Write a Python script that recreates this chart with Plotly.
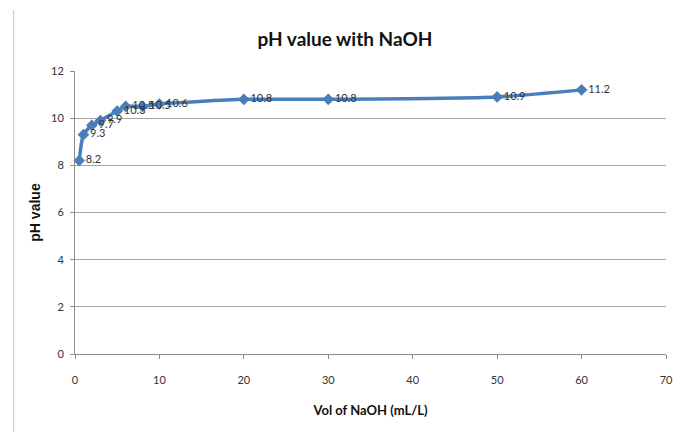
import plotly.graph_objects as go

vol_naoh = [0.5, 1, 2, 3, 5, 6, 8, 10, 20, 30, 50, 60]
ph_values = [8.2, 9.3, 9.7, 9.9, 10.3, 10.5, 10.5, 10.6, 10.8, 10.8, 10.9, 11.2]
x_ticks = [0, 10, 20, 30, 40, 50, 60, 70]
y_ticks = [0, 2, 4, 6, 8, 10, 12]

fig = go.Figure()
fig.add_trace(go.Scatter(
    x=vol_naoh, y=ph_values,
    mode="lines+markers+text",
    line=dict(color="#4A7EBB", width=3.5, shape="spline", smoothing=0.6),
    marker=dict(symbol="diamond", size=9, color="#4A7EBB"),
    text=[str(v) for v in ph_values],
    textposition="middle right",
    textfont=dict(family="Lato, Arial", size=11, color="#333333"),
    cliponaxis=False,
    showlegend=False,
))

# faint vertical page-edge line seen at the left of the reference image
fig.add_shape(type="line", xref="paper", yref="paper",
              x0=-0.1037, x1=-0.1037, y0=1.2155, y1=-0.28,
              line=dict(color="#C8C8C8", width=1))

# The page body adds an 8px offset, so the figure is sized to fit the window.
fig.update_layout(
    width=674, height=424,
    margin=dict(l=67, r=9, t=63, b=78),
    paper_bgcolor="white", plot_bgcolor="white",
    title=dict(text="<b>pH value with NaOH</b>", x=0.5, xanchor="center",
               y=0.925, yanchor="middle",
               font=dict(family="Lato, Arial", size=19, color="#111111")),
    xaxis=dict(range=[0, 70], tickvals=x_ticks, showgrid=False,
               showline=True, linecolor="#8C8C8C", linewidth=1,
               ticks="outside", ticklen=4, tickcolor="#8C8C8C",
               ticklabelstandoff=12,
               tickfont=dict(family="Lato, Arial", size=11, color="#333333"),
               title=dict(text="<b>Vol of NaOH (mL/L)</b>",
                          font=dict(family="Lato, Arial", size=13, color="#111111"),
                          standoff=20),
               zeroline=False),
    yaxis=dict(range=[0, 12], tickvals=y_ticks, showgrid=True,
               gridcolor="#A6A6A6", gridwidth=1,
               showline=True, linecolor="#8C8C8C", linewidth=1,
               ticks="outside", ticklen=4, tickcolor="#8C8C8C",
               ticklabelstandoff=4,
               tickfont=dict(family="Lato, Arial", size=11, color="#333333"),
               title=dict(text="<b>pH value</b>",
                          font=dict(family="Arial", size=14, color="#111111"),
                          standoff=7),
               zeroline=False),
)

fig.write_html("out.html")
